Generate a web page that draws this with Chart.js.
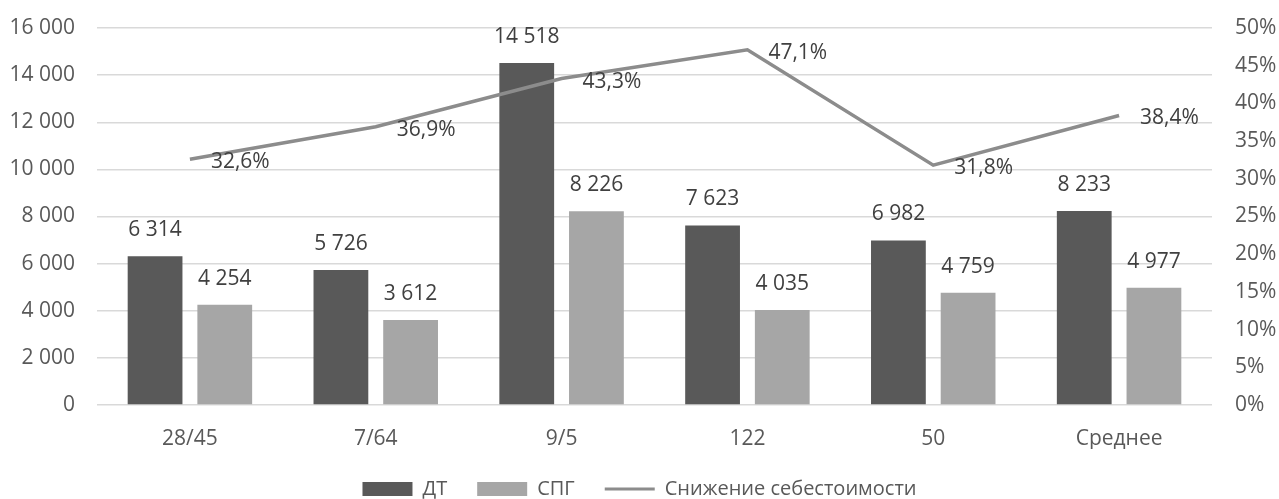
<!DOCTYPE html>
<html>
<head>
<meta charset="utf-8">
<script src="https://cdn.jsdelivr.net/npm/chart.js@4"></script>
<style>
  html, body { margin: 0; padding: 0; background: #fff; }
  #wrap { width: 1279px; height: 499px; }
</style>
</head>
<body>
<div id="wrap"><canvas id="costChart" width="1279" height="499"></canvas></div>
<script>
// data
const categories = ['28/45', '7/64', '9/5', '122', '50', 'Среднее'];
const dtValues = [6314, 5726, 14518, 7623, 6982, 8233];
const spgValues = [4254, 3612, 8226, 4035, 4759, 4977];
const reductionValues = [32.6, 36.9, 43.3, 47.1, 31.8, 38.4];
const seriesNames = ['ДТ', 'СПГ', 'Снижение себестоимости'];

const FONT = '"Open Sans", "DejaVu Sans", sans-serif';
const textColor = '#595959';

// numbers like "14 518" and "47,1%"
function fmtThousands(v) {
  return String(Math.round(v)).replace(/\B(?=(\d{3})+(?!\d))/g, ' ');
}
function fmtPct(v) {
  return v.toFixed(1).replace('.', ',') + '%';
}

// simple data label plugin (no datalabels plugin available)
const valueLabels = {
  id: 'valueLabels',
  afterDatasetsDraw(chart) {
    const ctx = chart.ctx;
    ctx.save();
    ctx.font = '21px ' + FONT;
    ctx.fillStyle = '#404040';
    chart.data.datasets.forEach((ds, i) => {
      const meta = chart.getDatasetMeta(i);
      meta.data.forEach((el, j) => {
        if (ds.type === 'line') {
          ctx.textAlign = 'left';
          ctx.textBaseline = 'middle';
          ctx.fillText(fmtPct(ds.data[j]), el.x + 21, el.y + 3);
        } else {
          ctx.textAlign = 'center';
          ctx.textBaseline = 'middle';
          ctx.fillText(fmtThousands(ds.data[j]), el.x, el.y - 26);
        }
      });
    });
    ctx.restore();
  }
};

// legend is shorter than chart.js wants, so the x labels get more room
const legendHeight = {
  id: 'legendHeight',
  afterInit(chart) {
    const lg = chart.legend;
    if (!lg) return;
    const fit = lg.fit.bind(lg);
    lg.fit = () => { fit(); lg.height = 50; };
  }
};

// no half-label padding on the value axes, so the plot starts where we say
function noScalePad(scale) {
  scale.paddingTop = 0;
  scale.paddingBottom = 0;
}

new Chart(document.getElementById('costChart').getContext('2d'), {
  type: 'bar',
  data: {
    labels: categories,
    datasets: [
      {
        type: 'line',
        label: seriesNames[2],
        data: reductionValues,
        yAxisID: 'y1',
        borderColor: '#8c8c8c',
        backgroundColor: '#8c8c8c',
        borderWidth: 3.5,
        pointRadius: 0,
        tension: 0,
        order: 0
      },
      {
        label: seriesNames[0],
        data: dtValues,
        yAxisID: 'y',
        backgroundColor: '#595959',
        barPercentage: 0.786,
        categoryPercentage: 0.75,
        order: 1
      },
      {
        label: seriesNames[1],
        data: spgValues,
        yAxisID: 'y',
        backgroundColor: '#a6a6a6',
        barPercentage: 0.786,
        categoryPercentage: 0.75,
        order: 1
      }
    ]
  },
  options: {
    responsive: false,
    animation: false,
    layout: { padding: { top: 28, right: 0, left: 0, bottom: 0 } },
    plugins: {
      tooltip: { enabled: false },
      legend: {
        position: 'bottom',
        labels: {
          color: textColor,
          font: { family: FONT, size: 20 },
          usePointStyle: true,
          pointStyleWidth: 50,
          boxHeight: 14,
          padding: 30,
          // bars first, then the line, like the original
          generateLabels(chart) {
            const order = [1, 2, 0];
            return order.map(i => {
              const ds = chart.data.datasets[i];
              const isLine = ds.type === 'line';
              return {
                text: ds.label,
                datasetIndex: i,
                fillStyle: ds.backgroundColor,
                strokeStyle: isLine ? ds.borderColor : ds.backgroundColor,
                lineWidth: isLine ? 3 : 0,
                pointStyle: isLine ? 'line' : 'rect',
                fontColor: textColor,
                hidden: false
              };
            });
          }
        }
      }
    },
    scales: {
      x: {
        grid: { display: false, drawTicks: false },
        border: { display: false },
        ticks: { color: textColor, font: { family: FONT, size: 21, lineHeight: 1 }, padding: 24 },
        afterFit(scale) { scale.height = 44; }
      },
      y: {
        position: 'left',
        min: 0,
        max: 16000,
        grid: { color: '#d9d9d9', lineWidth: 1.5, drawTicks: false },
        border: { display: false },
        ticks: {
          stepSize: 2000,
          color: textColor,
          font: { family: FONT, size: 21 },
          padding: 22,
          callback: v => fmtThousands(v)
        },
        afterFit(scale) { scale.width = 97; noScalePad(scale); }
      },
      y1: {
        position: 'right',
        min: 0,
        max: 50,
        grid: { display: false, drawTicks: false },
        border: { display: false },
        ticks: {
          stepSize: 5,
          color: textColor,
          font: { family: FONT, size: 21 },
          padding: 23,
          callback: v => v + '%'
        },
        afterFit(scale) { scale.width = 67; noScalePad(scale); }
      }
    }
  },
  plugins: [valueLabels, legendHeight]
});
</script>
</body>
</html>
